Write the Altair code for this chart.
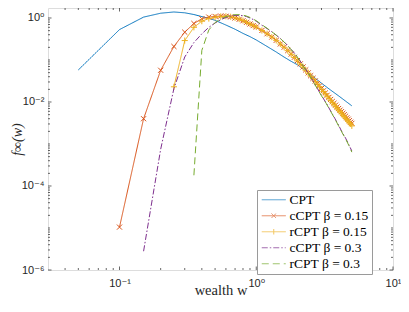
import altair as alt
import pandas as pd

# ---------------- data ----------------
series = ["CPT", "cCPT β = 0.15", "rCPT β = 0.15", "cCPT β = 0.3", "rCPT β = 0.3"]
colors = ["#0072BD", "#D95319", "#EDB120", "#7E2F8E", "#77AC30"]
dashes = [[1, 0], [1, 0], [1, 0], [6, 2, 1.5, 2], [7, 4]]
legend_shapes = [
    "M-2.4,0H2.4",
    "M-2.4,0H2.4M-0.45,-0.45L0.45,0.45M-0.45,0.45L0.45,-0.45",
    "M-2.4,0H2.4M0,-0.55V0.55",
    "M-2.4,0H2.4",
    "M-2.4,0H2.4",
]

w_cpt = [0.05, 0.1, 0.15, 0.2, 0.25, 0.3, 0.35, 0.4, 0.45, 0.5, 0.6, 0.7, 0.8, 0.9, 1.0,
         1.2, 1.4, 1.6, 1.8, 2.0, 2.5, 3.0, 3.5, 4.0, 4.5, 5.0]
f_cpt = [0.058, 0.53, 1.05, 1.3, 1.39, 1.33, 1.21, 1.08, 0.98, 0.88, 0.68, 0.54, 0.43, 0.36, 0.30,
         0.21, 0.155, 0.117, 0.093, 0.077, 0.045, 0.028, 0.0192, 0.0140, 0.0105, 0.0081]

w_tail = [1.1, 1.2, 1.3, 1.4, 1.5, 1.6, 1.7, 1.8, 1.9, 2.0, 2.1, 2.2, 2.3, 2.4, 2.5, 2.6, 2.7, 2.8, 2.9, 3.0,
          3.1, 3.2, 3.3, 3.4, 3.5, 3.6, 3.7, 3.8, 3.9, 4.0, 4.1, 4.2, 4.3, 4.4, 4.5, 4.6, 4.7, 4.8, 4.9, 5.0]

w_c15 = [0.1, 0.15, 0.2, 0.25, 0.3, 0.35, 0.4, 0.45, 0.5, 0.55, 0.6, 0.65, 0.7, 0.75, 0.8, 0.85, 0.9, 0.95, 1.0] + w_tail
f_c15 = [1.05e-5, 4.0e-3, 0.057, 0.21, 0.46, 0.74, 0.96, 1.05, 1.09, 1.11, 1.10, 1.06, 1.0, 0.93, 0.86, 0.79, 0.72, 0.66, 0.61,
         0.505, 0.422, 0.352, 0.294, 0.241, 0.202, 0.168, 0.138, 0.116, 0.097, 0.081, 0.0684, 0.0582, 0.0494, 0.0423,
         0.0366, 0.0317, 0.0276, 0.0241, 0.0210, 0.0185, 0.0164, 0.0145, 0.0129, 0.0115, 0.0103, 0.0093, 0.0084,
         0.0076, 0.0070, 0.0064, 0.0059, 0.0054, 0.0050, 0.0046, 0.0042, 0.0039, 0.0036, 0.0033, 0.0031]

w_r15 = [0.25, 0.3, 0.35, 0.4, 0.45, 0.5, 0.55, 0.6, 0.65, 0.7, 0.75, 0.8, 0.85, 0.9, 0.95, 1.0] + w_tail
f_r15 = [0.023, 0.29, 0.60, 0.84, 0.97, 1.04, 1.09, 1.10, 1.07, 1.01, 0.94, 0.87, 0.79, 0.72, 0.66, 0.61,
         0.504, 0.421, 0.351, 0.293, 0.240, 0.201, 0.167, 0.137, 0.115, 0.0957, 0.0799, 0.0674, 0.0572, 0.0485,
         0.0414, 0.0357, 0.0308, 0.0267, 0.0233, 0.0202, 0.0177, 0.0157, 0.0138, 0.01225, 0.0109, 0.0097, 0.0088,
         0.0079, 0.0071, 0.0065, 0.0059, 0.0054, 0.0049, 0.0045, 0.0041, 0.0038, 0.0035, 0.0032, 0.0030, 0.0027]

w_c30 = [0.15, 0.2, 0.25, 0.3, 0.35, 0.4, 0.45, 0.5, 0.55, 0.6, 0.65, 0.7, 0.75, 0.8, 0.85, 0.9, 0.95, 1.0,
         1.1, 1.2, 1.3, 1.4, 1.5, 1.6, 1.7, 1.8, 1.9, 2.0, 2.2, 2.4, 2.6, 2.8, 3.0, 3.25, 3.5, 3.75, 4.0, 4.25, 4.5, 4.75, 5.0]
f_c30 = [2.8e-6, 7.5e-4, 0.021, 0.118, 0.26, 0.42, 0.60, 0.76, 0.91, 1.03, 1.11, 1.15, 1.16, 1.14, 1.08, 1.0, 0.92, 0.84,
         0.67, 0.56, 0.47, 0.39, 0.325, 0.268, 0.22, 0.178, 0.146, 0.118, 0.074, 0.049, 0.032, 0.021, 0.0143, 0.0094,
         0.0061, 0.0041, 0.0028, 0.0019, 0.00138, 0.00097, 0.00068]

w_r30 = [0.35, 0.4, 0.45, 0.5, 0.55, 0.6, 0.65, 0.7, 0.75, 0.8, 0.85, 0.9, 0.95, 1.0,
         1.1, 1.2, 1.3, 1.4, 1.5, 1.6, 1.7, 1.8, 1.9, 2.0, 2.2, 2.4, 2.6, 2.8, 3.0, 3.25, 3.5, 3.75, 4.0, 4.25, 4.5, 4.75, 5.0]
f_r30 = [1.8e-4, 0.17, 0.52, 0.78, 0.96, 1.08, 1.16, 1.20, 1.20, 1.17, 1.11, 1.03, 0.94, 0.86,
         0.69, 0.57, 0.47, 0.39, 0.325, 0.267, 0.219, 0.177, 0.145, 0.117, 0.073, 0.048, 0.031, 0.0205, 0.0140, 0.0092,
         0.0060, 0.0040, 0.0027, 0.00185, 0.00133, 0.00093, 0.00064]

# axis ticks
x_major = [0.1, 1, 10]
x_minor = [0.04, 0.05, 0.06, 0.07, 0.08, 0.09, 0.2, 0.3, 0.4, 0.5, 0.6, 0.7, 0.8, 0.9,
           2, 3, 4, 5, 6, 7, 8, 9]
y_major = [1e-6, 1e-4, 1e-2, 1]
mantissas = [2, 3, 4, 5, 6, 7, 8, 9]
decades = [1e-6, 1e-5, 1e-4, 1e-3, 1e-2, 1e-1, 1]
Y_TOP = 1.73
y_minor = [m * d for d in decades for m in mantissas if m * d < Y_TOP] + [1e-5, 1e-3, 1e-1]

# ---------------- chart ----------------
W, H = 345, 262
xscale = alt.Scale(type="log", domain=[0.03, 10], nice=False)
yscale = alt.Scale(type="log", domain=[1e-6, Y_TOP], nice=False)

rows = []
for name, ws, fs in zip(series, [w_cpt, w_c15, w_r15, w_c30, w_r30], [f_cpt, f_c15, f_r15, f_c30, f_r30]):
    for a, b in zip(ws, fs):
        rows.append({"series": name, "w": a, "f": b})
df = pd.DataFrame(rows)

legend = alt.Legend(
    title=None, orient="none", legendX=209, legendY=182, direction="vertical",
    fillColor="white", strokeColor="#9a9a9a", padding=3,
    symbolSize=100, symbolStrokeWidth=1, symbolOffset=7,
    labelOffset=9, labelFont="Liberation Serif", labelFontSize=13.5, labelColor="black",
    rowPadding=1, labelLimit=300,
)

label_font = "Liberation Sans, DejaVu Sans"
x_axis = alt.Axis(values=x_major, grid=False, domain=False, ticks=False, tickSize=0,
                  labelExpr="datum.value < 0.5 ? '10⁻¹' : datum.value < 5 ? '10⁰' : '10¹'",
                  labelFont=label_font, labelFontSize=11, labelColor="#262626",
                  labelPadding=7, labelFlush=False,
                  titleFont="Liberation Serif", titleFontSize=14.5, titleFontWeight="normal",
                  titleColor="#262626", titleY=24, titleBaseline="alphabetic")
y_axis = alt.Axis(values=y_major, grid=False, domain=False, ticks=False, tickSize=0,
                  labelExpr="datum.value < 1e-5 ? '10⁻⁶' : datum.value < 1e-3 ? '10⁻⁴' : datum.value < 0.1 ? '10⁻²' : '10⁰'",
                  labelFont=label_font, labelFontSize=11, labelColor="#262626",
                  labelPadding=4, labelFlush=False,
                  titleFont="Liberation Serif", titleFontSize=14, titleFontWeight="normal",
                  titleFontStyle="italic", titleColor="#262626",
                  titleX=-27, titleY=H / 2, titleBaseline="alphabetic")

x_enc = alt.X("w:Q", scale=xscale, title="wealth w", axis=x_axis)
y_enc = alt.Y("f:Q", scale=yscale, title="f∞(w)", axis=y_axis)

color_enc = alt.Color("series:N", scale=alt.Scale(domain=series, range=colors), legend=legend)
dash_enc = alt.StrokeDash("series:N", scale=alt.Scale(domain=series, range=dashes), legend=legend)
shape_enc = alt.Shape("series:N", scale=alt.Scale(domain=series, range=legend_shapes), legend=legend)

base = alt.Chart(df)


def line_layer(name):
    return base.transform_filter(alt.datum.series == name).mark_line(strokeWidth=1).encode(
        x=x_enc, y=y_enc, color=color_enc, strokeDash=dash_enc)


def marker_layer(name, shape, col):
    return base.transform_filter(alt.datum.series == name).mark_point(
        shape=shape, filled=False, size=26, strokeWidth=1, color=col, opacity=1).encode(
        x=x_enc, y=y_enc)


# layer that only feeds the legend (no rows pass the filter)
legend_layer = base.transform_filter("false").mark_point(filled=False, strokeWidth=1).encode(
    x=x_enc, y=y_enc, color=color_enc, strokeDash=dash_enc, shape=shape_enc)

xmark = "M-1,-1L1,1M-1,1L1,-1"
plus = "M-1.2,0H1.2M0,-1.2V1.2"

layers = [
    line_layer(series[0]),
    line_layer(series[1]),
    marker_layer(series[1], xmark, colors[1]),
    line_layer(series[2]),
    marker_layer(series[2], plus, colors[2]),
    line_layer(series[3]),
    line_layer(series[4]),
    legend_layer,
]

tick_col = "#262626"


def xticks(vals, length):
    d = pd.DataFrame({"w": vals})
    c = alt.Chart(d).mark_rule(color=tick_col, strokeWidth=0.7)
    return [c.encode(x=x_enc, y=alt.value(H), y2=alt.value(H - length)),
            c.encode(x=x_enc, y=alt.value(0), y2=alt.value(length))]


def yticks(vals, length):
    d = pd.DataFrame({"f": vals})
    c = alt.Chart(d).mark_rule(color=tick_col, strokeWidth=0.7)
    return [c.encode(y=y_enc, x=alt.value(0), x2=alt.value(length)),
            c.encode(y=y_enc, x=alt.value(W), x2=alt.value(W - length))]


tick_layers = xticks(x_major, 3.5) + xticks(x_minor, 2) + yticks(y_major, 3.5) + yticks(y_minor, 2)

chart = alt.layer(*(layers + tick_layers)).properties(
    width=W, height=H,
    autosize=alt.AutoSizeParams(type="none"),
    padding={"left": 40, "top": 0, "right": 8, "bottom": 26},
).configure_view(stroke="#9a9a9a", strokeWidth=1).configure(background="white")

chart.save("out.html", embed_options={"renderer": "svg", "actions": False})
